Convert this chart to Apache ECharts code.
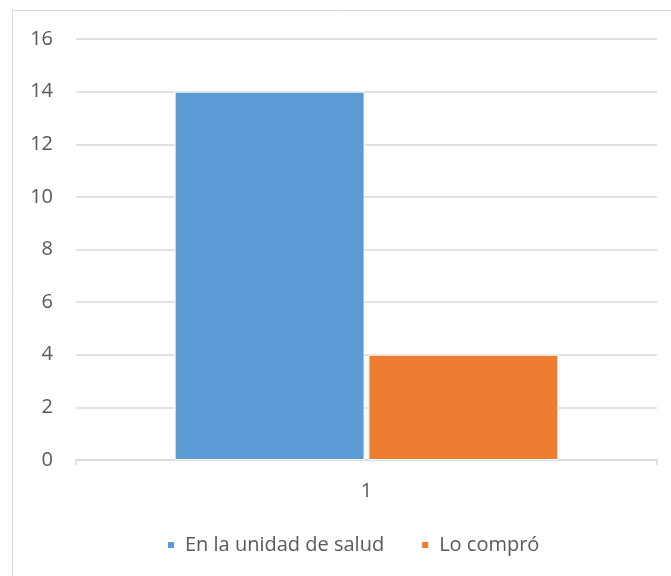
<!DOCTYPE html>
<html>
<head>
<meta charset="utf-8">
<script src="https://cdn.jsdelivr.net/npm/echarts@6/dist/echarts.min.js"></script>
<style>
  html, body { margin: 0; padding: 0; background: #fff; }
  #chart { width: 671px; height: 576px; }
</style>
</head>
<body>
<div id="chart"></div>
<script>
// Category and series data
var categories = ['1'];
var seriesNames = ['En la unidad de salud', 'Lo compró'];
var unidadSalud = [14];
var loCompro = [4];
var yTicks = { min: 0, max: 16, interval: 2 };

var textColor = '#595959';
var font = 'Open Sans';
var fontSize = 20;

var chart = echarts.init(document.getElementById('chart'), null, { renderer: 'canvas' });
chart.setOption({
  animation: false,
  backgroundColor: '#ffffff',
  textStyle: { fontFamily: font },
  graphic: [{
    type: 'rect',
    shape: { x: 12.5, y: 10.5, width: 700, height: 600 },
    style: { fill: 'none', stroke: '#d9d9d9', lineWidth: 1 },
    silent: true
  }],
  grid: { left: 76, right: 14, top: 39, bottom: 116, containLabel: false },
  legend: {
    data: seriesNames,
    left: 166,
    top: 535,
    padding: 0,
    itemWidth: 8,
    itemHeight: 8,
    itemGap: 36,
    icon: 'rect',
    textStyle: { color: textColor, fontSize: fontSize, fontFamily: font, padding: [0, 0, 0, 5] }
  },
  xAxis: {
    type: 'category',
    data: categories,
    axisLine: { lineStyle: { color: '#d9d9d9', width: 1.5 } },
    axisTick: { show: true, length: 5, lineStyle: { color: '#d9d9d9', width: 1.5 } },
    axisLabel: { color: textColor, fontSize: fontSize, fontFamily: font, margin: 21 }
  },
  yAxis: {
    type: 'value',
    min: yTicks.min,
    max: yTicks.max,
    interval: yTicks.interval,
    axisLine: { show: false },
    axisTick: { show: false },
    axisLabel: { color: textColor, fontSize: fontSize, fontFamily: font, margin: 23 },
    splitLine: { lineStyle: { color: '#d9d9d9', width: 1.5 } }
  },
  series: [
    {
      name: seriesNames[0],
      type: 'bar',
      data: unidadSalud,
      barWidth: 190,
      barGap: '2%',
      itemStyle: { color: '#5b9bd5', borderColor: '#ffffff', borderWidth: 1 }
    },
    {
      name: seriesNames[1],
      type: 'bar',
      data: loCompro,
      barWidth: 190,
      itemStyle: { color: '#ed7d31', borderColor: '#ffffff', borderWidth: 1 }
    }
  ]
});
</script>
</body>
</html>
